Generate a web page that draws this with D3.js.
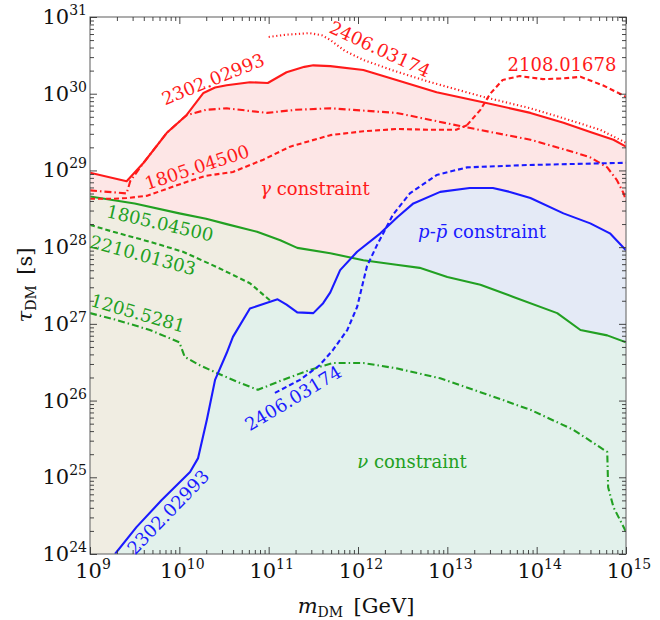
<!DOCTYPE html>
<html>
<head>
<meta charset="utf-8">
<script src="https://cdn.jsdelivr.net/npm/d3@7"></script>
<style>
  body { margin: 0; background: #fff; }
  svg text { font-family: "DejaVu Serif", "Liberation Serif", "Times New Roman", serif; }
</style>
</head>
<body>
<svg id="chart" width="660" height="620"></svg>
<script>
// every point is [log10(m_DM / GeV), log10(tau_DM / s)]
const gammaSolid = [[9,28.97],[9.41,28.86],[9.6,29.1],[9.86,29.49],[10.08,29.72],[10.27,30.01],[10.4,30.08],[10.53,30.11],[10.79,30.15],[10.99,30.14],[11.2,30.28],[11.4,30.35],[11.5,30.37],[11.69,30.36],[12.06,30.31],[12.43,30.18],[12.88,30.02],[13.4,29.89],[13.93,29.75],[14.3,29.62],[14.6,29.5],[14.86,29.4],[15,29.31]];
const gammaDotted = [[11,30.74],[11.2,30.77],[11.46,30.79],[11.6,30.76],[11.69,30.7],[11.85,30.56],[12.06,30.44],[12.4,30.3],[12.81,30.15],[13.4,29.96],[13.93,29.81],[14.3,29.68],[14.71,29.53],[15,29.36]];
const gammaDashDot = [[9,28.74],[9.41,28.7],[9.45,28.86],[9.6,29.1],[9.86,29.49],[10.08,29.72],[10.3,29.79],[10.53,29.81],[10.98,29.75],[11.3,29.79],[11.69,29.81],[12.43,29.75],[13.18,29.57],[13.93,29.4],[14.41,29.24],[14.6,29.17],[14.79,29.04],[14.9,28.87],[14.97,28.71],[15,28.61]];
const gamma1805 = [[9,28.63],[9.26,28.63],[9.41,28.64],[9.64,28.67],[10.08,28.85],[10.3,28.93],[10.6,28.98],[10.94,29.14],[11.24,29.31],[11.69,29.46],[12.06,29.51],[12.43,29.54],[12.81,29.53],[13.1,29.53],[13.22,29.59]];
const gamma2108 = [[13.22,29.59],[13.37,29.79],[13.48,30.0],[13.62,30.18],[13.81,30.23],[14.07,30.19],[14.3,30.2],[14.49,30.22],[14.74,30.11],[15,29.96]];

const ppSolid = [[9.28,24.0],[9.52,24.35],[9.8,24.7],[10.12,25.07],[10.21,25.25],[10.31,25.76],[10.4,26.27],[10.53,26.62],[10.6,26.83],[10.79,27.2],[11.1,27.32],[11.2,27.25],[11.32,27.15],[11.5,27.14],[11.61,27.27],[11.69,27.41],[11.8,27.7],[11.99,27.94],[12.25,28.18],[12.44,28.39],[12.62,28.57],[12.92,28.72],[13.25,28.77],[13.51,28.77],[13.7,28.72],[13.93,28.64],[14.3,28.44],[14.6,28.31],[14.82,28.18],[15,27.96]];
const ppDashed = [[11.07,26.1],[11.35,26.27],[11.57,26.46],[11.72,26.66],[11.88,26.92],[11.99,27.22],[12.1,27.75],[12.21,28.02],[12.39,28.42],[12.58,28.7],[12.88,28.94],[13.22,29.04],[13.89,29.07],[15,29.1]];

const nuSolid = [[9,28.66],[9.5,28.57],[10.0,28.44],[10.3,28.37],[10.53,28.3],[10.87,28.2],[11.13,28.09],[11.32,27.99],[11.69,27.92],[12.06,27.83],[12.43,27.77],[12.69,27.73],[13.0,27.61],[13.37,27.51],[13.74,27.35],[14.23,27.14],[14.49,26.92],[14.79,26.85],[15,26.76]];
const nuDashed = [[9,28.29],[9.26,28.2],[9.67,28.07],[10.04,27.94],[10.42,27.74],[10.79,27.53],[11.02,27.3]];
const nuDashDot = [[9,27.14],[9.3,27.05],[9.67,26.92],[10.0,26.76],[10.06,26.57],[10.23,26.46],[10.42,26.36],[10.68,26.23],[10.88,26.14],[11.16,26.27],[11.46,26.4],[11.72,26.49],[12.06,26.49],[12.43,26.42],[12.92,26.29],[13.37,26.11],[13.93,25.88],[14.41,25.62],[14.79,25.33],[14.8,24.87],[14.86,24.61],[15,24.29]];

const xDecades = [9, 10, 11, 12, 13, 14, 15];
const yDecades = [24, 25, 26, 27, 28, 29, 30, 31];

const red = "#ff1a1a", blue = "#1a1aff", green = "#22a022";
const serif = "'DejaVu Serif', 'Liberation Serif', serif";

const margin = { top: 17, right: 34, bottom: 66, left: 90 };
const width = 660, height = 620;

const svg = d3.select("#chart");

const x = d3.scaleLog().domain([1e9, 1e15]).range([margin.left, width - margin.right]);
const y = d3.scaleLog().domain([1e24, 1e31]).range([height - margin.bottom, margin.top]);

const line = d3.line()
  .x((d) => x(10 ** d[0]))
  .y((d) => y(10 ** d[1]));

// closed region under a curve, down to the bottom of the plot
const areaPath = (pts) => line(pts.concat([[15, 24], [pts[0][0], 24]])) + "Z";

const defs = svg.append("defs");
defs.append("clipPath").attr("id", "plotClip")
  .append("rect")
  .attr("x", margin.left).attr("y", margin.top)
  .attr("width", width - margin.left - margin.right)
  .attr("height", height - margin.top - margin.bottom);
defs.append("clipPath").attr("id", "nuClip")
  .append("path").attr("d", areaPath(nuSolid));

const plot = svg.append("g").attr("clip-path", "url(#plotClip)");

// shaded regions
plot.append("path").attr("d", areaPath(gammaSolid)).attr("fill", "#fde6e6");
plot.append("path").attr("d", areaPath(nuSolid)).attr("fill", "#f0ede2");
plot.append("path").attr("d", areaPath(ppSolid)).attr("fill", "#e4eaf6");
plot.append("path").attr("d", areaPath(ppSolid)).attr("fill", "#e2f1eb").attr("clip-path", "url(#nuClip)");

// curves
const curves = [
  { data: nuDashDot, color: green, dash: "7,3,1.5,3" },
  { data: nuDashed, color: green, dash: "5,3" },
  { data: nuSolid, color: green, dash: null },
  { data: gammaDashDot, color: red, dash: "7,3,1.5,3" },
  { data: gamma1805, color: red, dash: "5,3" },
  { data: gamma2108, color: red, dash: "5,3" },
  { data: gammaDotted, color: red, dash: "1.2,2.6" },
  { data: gammaSolid, color: red, dash: null },
  { data: ppDashed, color: blue, dash: "5,3" },
  { data: ppSolid, color: blue, dash: null },
];

plot.selectAll("path.curve")
  .data(curves)
  .enter()
  .append("path")
  .attr("class", "curve")
  .attr("d", (c) => line(c.data))
  .attr("fill", "none")
  .attr("stroke", (c) => c.color)
  .attr("stroke-width", 2.1)
  .attr("stroke-dasharray", (c) => c.dash)
  .attr("stroke-linejoin", "round");

// frame and ticks
svg.append("rect")
  .attr("x", margin.left).attr("y", margin.top)
  .attr("width", width - margin.left - margin.right)
  .attr("height", height - margin.top - margin.bottom)
  .attr("fill", "none").attr("stroke", "#777").attr("stroke-width", 1.2);

const xMajor = xDecades.map((e) => 10 ** e);
const yMajor = yDecades.map((e) => 10 ** e);
const xMinor = [], yMinor = [];
xDecades.slice(0, -1).forEach((e) => { for (let k = 2; k <= 9; k++) xMinor.push(k * 10 ** e); });
yDecades.slice(0, -1).forEach((e) => { for (let k = 2; k <= 9; k++) yMinor.push(k * 10 ** e); });

function addAxis(axisFn, scale, values, size, transform) {
  const g = svg.append("g")
    .attr("transform", transform)
    .call(axisFn(scale).tickValues(values).tickSize(-size).tickFormat(""));
  g.select(".domain").remove();
  g.selectAll("line").attr("stroke", "#333").attr("stroke-width", 0.9);
}

const bottomT = `translate(0,${height - margin.bottom})`;
const topT = `translate(0,${margin.top})`;
const leftT = `translate(${margin.left},0)`;
const rightT = `translate(${width - margin.right},0)`;

addAxis(d3.axisBottom, x, xMajor, 7, bottomT);
addAxis(d3.axisBottom, x, xMinor, 4, bottomT);
addAxis(d3.axisTop, x, xMajor, 7, topT);
addAxis(d3.axisTop, x, xMinor, 4, topT);
addAxis(d3.axisLeft, y, yMajor, 7, leftT);
addAxis(d3.axisLeft, y, yMinor, 4, leftT);
addAxis(d3.axisRight, y, yMajor, 7, rightT);
addAxis(d3.axisRight, y, yMinor, 4, rightT);

// tick labels: 10^n
function powerLabel(sel) {
  sel.append("tspan").text("10");
  sel.append("tspan").attr("dy", -9).attr("font-size", 14).text((e) => e);
}

svg.append("g").selectAll("text")
  .data(xDecades)
  .enter()
  .append("text")
  .attr("x", (e) => x(10 ** e) + 3)
  .attr("y", height - margin.bottom + 24)
  .attr("text-anchor", "middle")
  .attr("font-family", serif)
  .attr("font-size", 21)
  .attr("fill", "#111")
  .call(powerLabel);

svg.append("g").selectAll("text")
  .data(yDecades)
  .enter()
  .append("text")
  .attr("x", margin.left - 3)
  .attr("y", (e) => y(10 ** e) + 7)
  .attr("text-anchor", "end")
  .attr("font-family", serif)
  .attr("font-size", 21)
  .attr("fill", "#111")
  .call(powerLabel);

// axis titles
const xTitle = svg.append("text")
  .attr("x", 356).attr("y", 613)
  .attr("text-anchor", "middle")
  .attr("font-family", serif)
  .attr("font-size", 21)
  .attr("fill", "#111");
xTitle.append("tspan").attr("font-style", "italic").text("m");
xTitle.append("tspan").attr("font-size", 14).attr("dy", 4).text("DM");
xTitle.append("tspan").attr("dy", -4).text("\u2002[GeV]");

const yTitle = svg.append("text")
  .attr("transform", "translate(32,285) rotate(-90)")
  .attr("text-anchor", "middle")
  .attr("font-family", serif)
  .attr("font-size", 21)
  .attr("fill", "#111");
yTitle.append("tspan").attr("font-style", "italic").text("\u03C4");
yTitle.append("tspan").attr("font-size", 14).attr("dy", 4).text("DM");
yTitle.append("tspan").attr("dy", -4).text("\u2002[s]");

// in-plot annotations
const notes = [
  { text: "2302.02993", x: 213, y: 79, rot: -22, color: red },
  { text: "2406.03174", x: 380, y: 49, rot: 25, color: red },
  { text: "2108.01678", x: 562, y: 64, rot: 0, color: red },
  { text: "1805.04500", x: 197, y: 167, rot: -18, color: red },
  { text: "1805.04500", x: 160, y: 223, rot: 13, color: green },
  { text: "2210.01303", x: 143, y: 255, rot: 15, color: green },
  { text: "1205.5281", x: 138, y: 313, rot: 16, color: green },
  { text: "2406.03174", x: 293, y: 398, rot: -31, color: blue },
  { text: "2302.02993", x: 168, y: 512, rot: -46, color: blue },
];

svg.append("g").selectAll("text")
  .data(notes)
  .enter()
  .append("text")
  .attr("transform", (d) => `translate(${d.x},${d.y}) rotate(${d.rot})`)
  .attr("text-anchor", "middle")
  .attr("dominant-baseline", "central")
  .attr("font-family", serif)
  .attr("font-size", 18)
  .attr("fill", (d) => d.color)
  .text((d) => d.text);

function constraintLabel(px, py, symbol, color) {
  const t = svg.append("text")
    .attr("x", px).attr("y", py)
    .attr("text-anchor", "middle")
    .attr("font-family", serif)
    .attr("font-size", 18)
    .attr("fill", color);
  symbol(t);
  t.append("tspan").text(" constraint");
}

constraintLabel(315, 195, (t) => t.append("tspan").attr("font-style", "italic").text("\u03B3"), red);
constraintLabel(482, 238, (t) => {
  t.append("tspan").attr("font-style", "italic").text("p");
  t.append("tspan").text("-");
  t.append("tspan").attr("font-style", "italic").text("p\u0304");
}, blue);
constraintLabel(412, 468, (t) => t.append("tspan").attr("font-style", "italic").text("\u03BD"), green);
</script>
</body>
</html>
